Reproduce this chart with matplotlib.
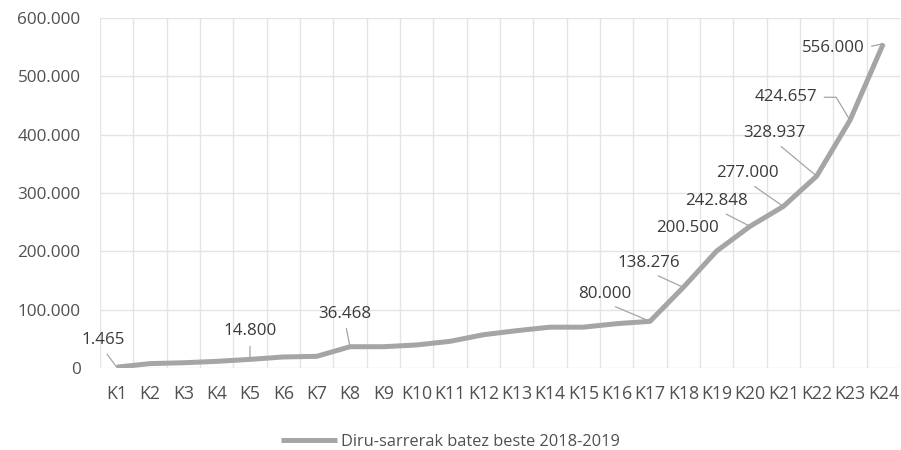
import matplotlib.pyplot as plt
from matplotlib.ticker import FuncFormatter, MultipleLocator
import numpy as np

plt.rcParams['font.family'] = ['Open Sans', 'DejaVu Sans']

categories = ['K%d' % i for i in range(1, 25)]
values = [1465, 7500, 9000, 11400, 14800, 18900, 20000, 36468, 36500, 39500,
          45700, 57000, 64000, 70000, 70000, 76000, 80000, 138276, 200500,
          242848, 277000, 328937, 424657, 556000]
series_name = 'Diru-sarrerak batez beste 2018-2019'

# which points carry a data label, and where the label sits (offset in pixels)
labelled = [0, 4, 7, 16, 17, 18, 19, 20, 21, 22, 23]
label_offsets = {0: (-14, 27), 4: (0, 28), 7: (-5, 33), 16: (-45, 27),
                 17: (-35, 24), 18: (-29, 23), 19: (-33, 25), 20: (-36, 33),
                 21: (-42, 43), 22: (-64, 23), 23: (-50, -4)}


def dots(v, pos=None):
    return f"{v:,.0f}".replace(',', '.')


line_col = '#a5a5a5'
grid_col = '#e4e4e4'
text_col = '#505050'

fig = plt.figure(figsize=(9.01, 4.5), dpi=100)
ax = fig.add_axes([100 / 901, (450 - 368) / 450, 800 / 901, 350 / 450])

x = np.arange(1, len(values) + 1)
ax.plot(x, values, color=line_col, lw=3.6, solid_capstyle='butt', label=series_name, zorder=3)

ax.set_xlim(0.5, len(values) + 0.5)
ax.set_ylim(0, 600000)
ax.set_xticks(x)
ax.set_xticklabels(categories)
ax.xaxis.set_minor_locator(MultipleLocator(1, offset=0.5))
ax.yaxis.set_major_locator(MultipleLocator(100000))
ax.yaxis.set_major_formatter(FuncFormatter(dots))

ax.grid(axis='y', which='major', color=grid_col, lw=1)
ax.grid(axis='x', which='minor', color=grid_col, lw=1)
ax.grid(axis='x', which='major', visible=False)
for s in ax.spines.values():
    s.set_visible(False)
ax.tick_params(which='both', length=0)
ax.tick_params(axis='y', labelsize=12.3, labelcolor=text_col, pad=14)
ax.tick_params(axis='x', labelsize=12.8, labelcolor=text_col, pad=12)

for i in labelled:
    dx, dy = label_offsets[i]
    if i == 18:
        props = None
    elif i == 22:
        props = dict(arrowstyle='-', color=line_col, lw=0.9, shrinkA=3, shrinkB=0,
                     relpos=(1, 0.5), connectionstyle='angle,angleA=0,angleB=-59,rad=0')
    elif i == 23:
        props = dict(arrowstyle='-', color=line_col, lw=0.9, shrinkA=3, shrinkB=0,
                     relpos=(1, 0.5))
    else:
        props = dict(arrowstyle='-', color=line_col, lw=0.9, shrinkA=3, shrinkB=0,
                     relpos=(0.5, 0))
    ax.annotate(dots(values[i]), (x[i], values[i]), xytext=(dx, dy),
                textcoords='offset pixels', ha='center', va='center',
                fontsize=12.2, color='#3a3a3a', arrowprops=props, zorder=4)

fig.legend(loc='center', bbox_to_anchor=(0.5, 1 - 442 / 450), frameon=False,
           fontsize=11.8, labelcolor=text_col, handlelength=3.4, handletextpad=0.25)

fig.savefig('out.png', dpi=100)
